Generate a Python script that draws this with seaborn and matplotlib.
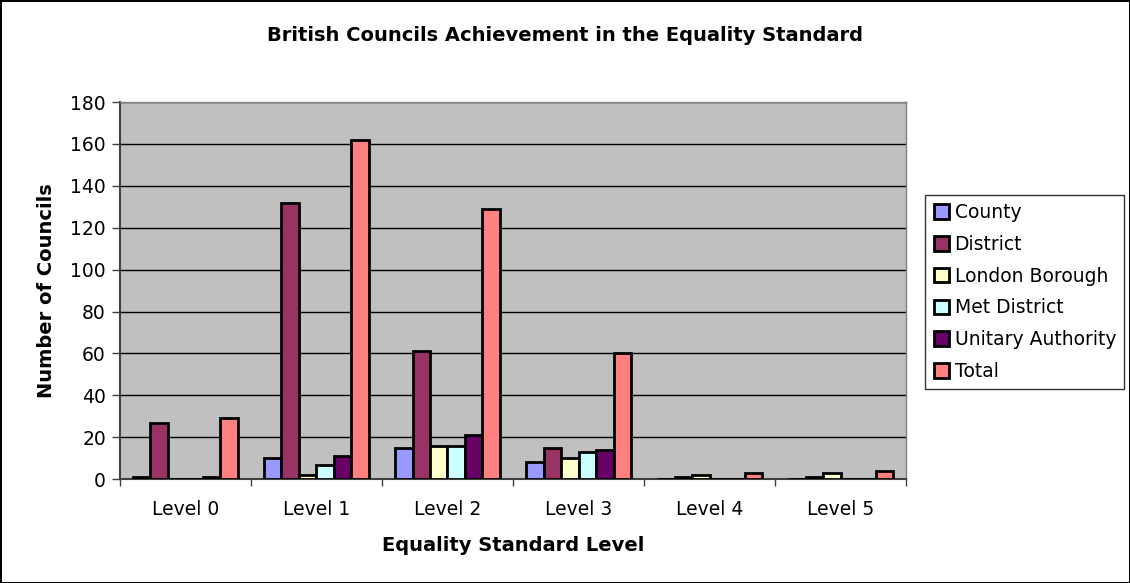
import matplotlib
matplotlib.use("Agg")
import numpy as np
import pandas as pd
import matplotlib.pyplot as plt
import seaborn as sns

# Valores
levels = ["Level 0", "Level 1", "Level 2", "Level 3", "Level 4", "Level 5"]
council_types = ["County", "District", "London Borough", "Met District",
                 "Unitary Authority", "Total"]
county = [1, 10, 15, 8, 0, 0]
district = [27, 132, 61, 15, 1, 1]
london_borough = [0, 2, 16, 10, 2, 3]
met_district = [0, 7, 16, 13, 0, 0]
unitary = [1, 11, 21, 14, 0, 0]
total = [29, 162, 129, 60, 3, 4]

colors = ["#9999FF", "#993366", "#FFFFCC", "#CCFFFF", "#660066", "#FF8080"]

series = [county, district, london_borough, met_district, unitary, total]
rows = []
for name, vals in zip(council_types, series):
    for lvl, v in zip(levels, vals):
        rows.append({"level": lvl, "type": name, "count": v})
df = pd.DataFrame(rows)

sns.set_theme(style="white")
plt.rcParams["font.family"] = ["DejaVu Sans"]
plt.rcParams["text.color"] = "black"
plt.rcParams["axes.labelcolor"] = "black"
plt.rcParams["xtick.color"] = "black"
plt.rcParams["ytick.color"] = "black"

fig = plt.figure(figsize=(11.3, 5.83), dpi=100, edgecolor="black", linewidth=2)
ax = fig.add_axes([0.106, 0.178, 0.696, 0.647])
ax.set_facecolor("#C0C0C0")

sns.barplot(data=df, x="level", y="count", hue="type", order=levels,
            hue_order=council_types, palette=colors, saturation=1,
            edgecolor="black", linewidth=2, width=0.8, gap=0,
            errorbar=None, ax=ax, zorder=3)

ax.set_ylim(0, 180)
ax.set_xlim(-0.5, len(levels) - 0.5)
ax.set_yticks(np.arange(0, 181, 20))
ax.yaxis.grid(True, color="black", linewidth=1, zorder=0)
ax.set_axisbelow(True)

ax.tick_params(axis="y", left=True, length=6, width=1, color="#404040", labelsize=13.5, pad=4)
ax.tick_params(axis="x", which="major", length=0, labelsize=13.5, pad=15)
ax.set_xticks(np.arange(-0.5, len(levels), 1.0), minor=True)
ax.tick_params(axis="x", which="minor", bottom=True, length=5, width=1, color="#404040")

for side in ["top", "right"]:
    ax.spines[side].set_color("#808080")
    ax.spines[side].set_linewidth(1)
for side in ["left", "bottom"]:
    ax.spines[side].set_color("#404040")
    ax.spines[side].set_linewidth(1.5)

ax.set_xlabel("Equality Standard Level", fontsize=14, fontweight="bold", labelpad=12)
ax.set_ylabel("Number of Councils", fontsize=14, fontweight="bold", labelpad=10)
fig.suptitle("British Councils Achievement in the Equality Standard",
             fontsize=14, fontweight="bold", y=0.955)

handles, labels = ax.get_legend_handles_labels()
ax.legend_.remove()
leg = fig.legend(handles, labels, loc="upper left", bbox_to_anchor=(0.819, 0.666),
                 frameon=True, fancybox=False, edgecolor="black", fontsize=13.5,
                 handlelength=0.8, handleheight=0.8, handletextpad=0.3,
                 labelspacing=0.68, borderpad=0.45, borderaxespad=0)
leg.get_frame().set_linewidth(1)

fig.savefig("out.png", dpi=100)
plt.close(fig)
